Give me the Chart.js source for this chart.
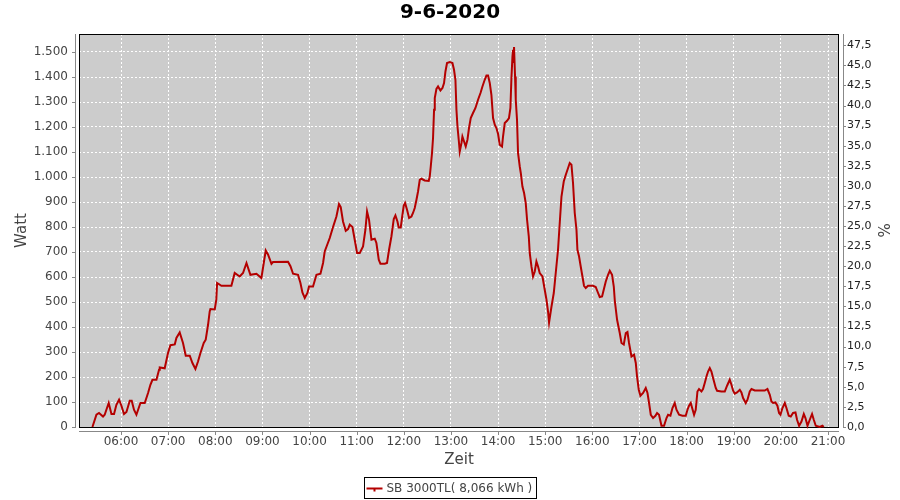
<!DOCTYPE html>
<html lang="de">
<head>
<meta charset="utf-8">
<title>9-6-2020</title>
<script src="https://cdn.jsdelivr.net/npm/chart.js@4.4.1/dist/chart.umd.min.js"></script>
<style>
  html, body { margin: 0; padding: 0; background: #ffffff; }
  #wrap { width: 900px; height: 500px; }
</style>
</head>
<body>
<div id="wrap"><canvas id="chart-tag" width="900" height="500"></canvas></div>
<script>
'use strict';

/* ─── Daten ───────────────────────────────────────────────── */
var titelText   = '9-6-2020';
var serienName  = 'SB 3000TL( 8,066 kWh )';

/* Minuten seit Mitternacht */
var zeitMin = [
  323.6, 328.7, 332, 337.1, 339.2, 344.3, 347.8, 351.1, 354.1, 357.5,
  360.5, 363.8, 366.9, 371.1, 373.6, 376.5, 379.6, 384.7, 390.2, 394.4,
  397.4, 400, 405.1, 408.4, 409.3, 415.6, 419.8, 422.9, 428.4, 430.5,
  434.7, 438.9, 442.4, 447.5, 450.9, 454.7, 458, 461.1, 465.3, 467.8,
  470.8, 472.9, 473.8, 479.3, 481.3, 482.3, 487.8, 500.5, 504.7, 511.1,
  515.3, 519.7, 524.7, 532.4, 538.7, 541.7, 544.2, 547.1, 551.5, 553.5,
  572.6, 575.7, 579, 585.3, 588.4, 590.9, 593.9, 597.3, 599.3, 604.4,
  608.8, 613.9, 617.2, 619.3, 625.7, 629.9, 634.2, 637.5, 639.7, 642.6,
  646.1, 649, 651.2, 654.6, 657.5, 660.5, 663.9, 668.1, 671.1, 673.2,
  675.7, 678.8, 683, 685.1, 688.1, 690.2, 695.7, 698.6, 701.2, 704.2,
  707.2, 709.3, 711.9, 713.5, 716.1, 717.7, 719.9, 721.6, 724.1, 726.7,
  729.7, 731.7, 733.9, 736.1, 738.1, 740.3, 742.4, 746.6, 751.7, 753,
  754.3, 755.9, 757.2, 758.5, 759.4, 761.5, 763.6, 766.6, 769.2, 771.2,
  773, 775, 778.5, 781.9, 783.9, 785.7, 787, 788.3, 789.9, 791.2,
  793.4, 794.6, 796.7, 798.8, 801, 803, 805.2, 808.1, 811.2, 814.5,
  817.6, 820.1, 823, 825.2, 827.2, 829.4, 831.5, 833.6, 835.8, 837.9,
  840, 842.1, 845, 846.3, 848.5, 851.4, 853.9, 855.7, 857, 858.3,
  859.1, 859.9, 860.3, 861.6, 862.5, 864.1, 865.4, 867.6, 868.9, 871,
  873.1, 875.2, 876.9, 879.1, 880.3, 882.5, 884.5, 886.7, 888.8, 890.9,
  893, 896.5, 899.4, 901.6, 903.6, 904.9, 908, 910.9, 913.4, 916.3,
  918.5, 920.7, 923.6, 926.2, 929.1, 931.2, 933.4, 935.4, 937.6, 939.8,
  941, 943.1, 945.2, 947.4, 949.4, 951.6, 954.5, 960.9, 964.3, 967.3,
  969.4, 972.4, 974.5, 977.1, 980, 982.2, 985.1, 987.3, 988.6, 991.5,
  994.9, 997.1, 1000, 1002.6, 1004.7, 1006.7, 1009.8, 1013.1, 1015.3, 1016.9,
  1019.1, 1021.2, 1024.6, 1028, 1030.2, 1032.2, 1034.4, 1037.3, 1040.3, 1042.4,
  1044.9, 1048, 1051.3, 1054.4, 1056.4, 1059.4, 1062, 1064.9, 1067.1, 1070.4,
  1074.7, 1078.9, 1081.1, 1083.1, 1085.3, 1087.4, 1089.5, 1091.6, 1093.8, 1095.8,
  1098.9, 1100.9, 1103.1, 1105.3, 1107.3, 1109.5, 1111.6, 1113.7, 1117.1, 1118.8,
  1124.4, 1128.6, 1131.5, 1134.9, 1137.1, 1139.1, 1141.3, 1144.2, 1147.7, 1149.8,
  1151.9, 1155.3, 1157.5, 1160.4, 1162.6, 1166.8, 1179.5, 1182.9, 1185.9, 1188,
  1190.1, 1193.1, 1195.6, 1197.7, 1199.5, 1202, 1205, 1207.1, 1210, 1212.6,
  1215.5, 1218.6, 1220.6, 1223.2, 1226.2, 1229.2, 1231.3, 1233.9, 1236.8, 1239.7,
  1241.9, 1244.4, 1249.5, 1252.9, 1254.6
];

var wattWerte = [
  0, 49, 56, 42, 49, 96, 52, 52, 89, 109,
  85, 52, 60, 105, 105, 69, 49, 96, 96, 136,
  169, 189, 189, 229, 238, 235, 296, 327, 330, 356,
  378, 336, 285, 285, 256, 232, 262, 296, 336, 349,
  409, 462, 472, 470, 509, 576, 565, 565, 616, 602,
  616, 656, 609, 613, 596, 656, 706, 690, 653, 660,
  661, 643, 613, 609, 576, 538, 516, 536, 562, 562,
  609, 613, 656, 702, 756, 800, 842, 892, 880, 822,
  785, 792, 809, 800, 749, 696, 696, 722, 789, 862,
  829, 749, 753, 736, 669, 653, 653, 656, 709, 762,
  832, 846, 822, 798, 798, 836, 886, 896, 869, 836,
  842, 856, 876, 909, 942, 989, 993, 986, 984, 1002,
  1042, 1096, 1156, 1269, 1316, 1352, 1362, 1346, 1356, 1376,
  1422, 1456, 1460, 1456, 1429, 1389, 1269, 1202, 1149, 1102,
  1136, 1162, 1142, 1122, 1149, 1196, 1236, 1256, 1276, 1309,
  1336, 1362, 1389, 1406, 1406, 1376, 1329, 1236, 1209, 1196,
  1172, 1129, 1122, 1162, 1216, 1225, 1236, 1276, 1396, 1482,
  1509, 1456, 1520, 1402, 1309, 1229, 1096, 1042, 1016, 962,
  936, 896, 829, 762, 696, 642, 602, 622, 662, 642,
  616, 602, 549, 509, 462, 418, 482, 536, 616, 709,
  816, 922, 982, 1009, 1036, 1056, 1049, 976, 856, 789,
  709, 682, 642, 602, 565, 556, 565, 565, 560, 536,
  520, 522, 549, 582, 609, 625, 609, 562, 505, 429,
  376, 336, 330, 376, 380, 336, 282, 289, 256, 202,
  149, 125, 136, 156, 136, 96, 49, 36, 45, 56,
  49, 5, 5, 36, 49, 45, 76, 96, 69, 49,
  45, 45, 69, 85, 96, 72, 49, 69, 142, 152,
  142, 152, 176, 202, 222, 236, 222, 196, 156, 145,
  142, 142, 165, 189, 169, 146, 133, 138, 149, 138,
  116, 96, 109, 142, 152, 146, 146, 152, 129, 102,
  96, 98, 85, 56, 49, 76, 96, 76, 45, 42,
  56, 58, 29, 5, 22, 52, 36, 5, 29, 52,
  29, 5, 0, 5, 0
];

/* Achsenbereiche und Ticks */
var zeitBereich    = [306.5, 1274];
var wattBereich    = [0, 1572];
var prozentBereich = [0, 48.9];
var zeitTicks    = [360, 420, 480, 540, 600, 660, 720, 780, 840, 900, 960, 1020, 1080, 1140, 1200, 1260];
var wattTicks    = [0, 100, 200, 300, 400, 500, 600, 700, 800, 900, 1000, 1100, 1200, 1300, 1400, 1500];
var prozentTicks = [0, 2.5, 5, 7.5, 10, 12.5, 15, 17.5, 20, 22.5, 25, 27.5, 30, 32.5, 35, 37.5, 40, 42.5, 45, 47.5];

/* ─── Hilfsfunktionen ─────────────────────────────────────── */
function fmtZeit(m) {
  var h = Math.floor(m / 60);
  var mm = Math.round(m - h * 60);
  return (h < 10 ? '0' : '') + h + ':' + (mm < 10 ? '0' : '') + mm;
}
function fmtWatt(v) {
  return v.toLocaleString('de-DE');
}
function fmtProzent(v) {
  return v.toFixed(1).replace('.', ',');
}
function setzeTicks(liste) {
  return function(scale) {
    scale.ticks = liste.map(function(v) { return { value: v }; });
  };
}

var punkte = [];
for (var i = 0; i < zeitMin.length; i++) {
  punkte.push({ x: zeitMin[i], y: wattWerte[i] });
}

/* ─── Plot-Hintergrund, Rahmen, versetzte Achsen, Legende ── */
var jfreeStil = {
  id: 'jfreeStil',
  beforeDraw: function(chart) {
    var ctx = chart.ctx, a = chart.chartArea;
    ctx.save();
    ctx.fillStyle = '#ffffff';
    ctx.fillRect(0, 0, chart.width, chart.height);
    ctx.fillStyle = '#cccccc';
    ctx.fillRect(a.left, a.top, a.right - a.left, a.bottom - a.top);
    ctx.restore();
  },
  beforeDatasetsDraw: function(chart) {
    var ctx = chart.ctx, a = chart.chartArea;
    ctx.save();
    ctx.strokeStyle = '#000000';
    ctx.lineWidth = 1;
    ctx.strokeRect(a.left + 0.5, a.top + 0.5, a.right - a.left - 1, a.bottom - a.top);
    ctx.restore();
  },
  afterDraw: function(chart) {
    var ctx = chart.ctx, a = chart.chartArea;
    var sx = chart.scales.x, sy = chart.scales.y, sp = chart.scales.y1;
    var i, p;
    ctx.save();
    ctx.strokeStyle = '#888888';
    ctx.lineWidth = 1;
    ctx.beginPath();
    /* links */
    ctx.moveTo(a.left - 3.5, a.top);
    ctx.lineTo(a.left - 3.5, a.bottom + 1);
    for (i = 0; i < wattTicks.length; i++) {
      p = Math.round(sy.getPixelForValue(wattTicks[i])) + 0.5;
      ctx.moveTo(a.left - 7, p);
      ctx.lineTo(a.left - 3.5, p);
    }
    /* unten */
    ctx.moveTo(a.left, a.bottom + 4.5);
    ctx.lineTo(a.right, a.bottom + 4.5);
    for (i = 0; i < zeitTicks.length; i++) {
      p = Math.round(sx.getPixelForValue(zeitTicks[i])) + 0.5;
      ctx.moveTo(p, a.bottom + 4.5);
      ctx.lineTo(p, a.bottom + 8);
    }
    /* rechts */
    ctx.moveTo(a.right + 4.5, a.top);
    ctx.lineTo(a.right + 4.5, a.bottom + 1);
    for (i = 0; i < prozentTicks.length; i++) {
      p = Math.round(sp.getPixelForValue(prozentTicks[i])) + 0.5;
      ctx.moveTo(a.right + 4.5, p);
      ctx.lineTo(a.right + 7, p);
    }
    ctx.stroke();

    /* Legende mit Rahmen */
    var label = chart.data.datasets[0].label;
    ctx.font = '12px "DejaVu Sans"';
    var tw = ctx.measureText(label).width;
    var bw = Math.round(tw + 26);
    var bx = Math.round(450 - bw / 2) + 0.5;
    var by = 477.5;
    ctx.strokeStyle = '#000000';
    ctx.strokeRect(bx, by, bw, 21);
    ctx.strokeStyle = chart.data.datasets[0].borderColor;
    ctx.lineWidth = 2;
    ctx.beginPath();
    ctx.moveTo(bx + 2, by + 11);
    ctx.lineTo(bx + 18, by + 11);
    ctx.stroke();
    ctx.fillStyle = chart.data.datasets[0].borderColor;
    ctx.fillRect(bx + 9, by + 11, 2, 3);
    ctx.fillStyle = '#444444';
    ctx.textBaseline = 'middle';
    ctx.textAlign = 'left';
    ctx.fillText(label, bx + 22, by + 11);
    ctx.restore();
  }
};

/* ─── Chart ───────────────────────────────────────────────── */
Chart.defaults.font.family = '"DejaVu Sans", sans-serif';
Chart.defaults.font.size = 12;

var chartTag = new Chart(document.getElementById('chart-tag'), {
  type: 'line',
  data: {
    datasets: [{
      label: serienName,
      data: punkte,
      borderColor: '#b40000',
      borderWidth: 2,
      pointRadius: 0,
      tension: 0,
      fill: false,
      clip: false
    }]
  },
  options: {
    responsive: false,
    animation: false,
    layout: { padding: 0 },
    plugins: {
      legend: { display: false },
      tooltip: { enabled: false },
      title: {
        display: true,
        text: titelText,
        color: '#000000',
        font: { size: 20, weight: 'bold' },
        padding: { top: 1, bottom: 9 }
      }
    },
    scales: {
      x: {
        type: 'linear',
        position: 'bottom',
        min: zeitBereich[0],
        max: zeitBereich[1],
        afterBuildTicks: setzeTicks(zeitTicks),
        afterFit: function(s) { s.height = 73; },
        grid: { color: '#ffffff', lineWidth: 1, drawTicks: false },
        border: { display: false, dash: [2, 2] },
        ticks: { padding: 8, color: '#444444', maxRotation: 0, autoSkip: false,
                 callback: function(v) { return fmtZeit(v); } },
        title: { display: true, text: 'Zeit', color: '#444444',
                 font: { size: 15 }, padding: { top: 0, bottom: 31 } }
      },
      y: {
        type: 'linear',
        position: 'left',
        min: wattBereich[0],
        max: wattBereich[1],
        afterBuildTicks: setzeTicks(wattTicks),
        afterFit: function(s) { s.width = 79; },
        grid: { color: '#ffffff', lineWidth: 1, drawTicks: false },
        border: { display: false, dash: [2, 2] },
        ticks: { padding: 11, color: '#444444', autoSkip: false,
                 callback: function(v) { return fmtWatt(v); } },
        title: { display: true, text: 'Watt', color: '#444444',
                 font: { size: 15 }, padding: { top: 13, bottom: 0 } }
      },
      y1: {
        type: 'linear',
        position: 'right',
        min: prozentBereich[0],
        max: prozentBereich[1],
        afterBuildTicks: setzeTicks(prozentTicks),
        afterFit: function(s) { s.width = 61; },
        grid: { drawOnChartArea: false, drawTicks: false },
        border: { display: false },
        ticks: { padding: 8, color: '#222222', autoSkip: false, font: { size: 11 },
                 callback: function(v) { return fmtProzent(v); } },
        title: { display: true, text: '%', color: '#444444',
                 font: { size: 15 }, padding: { top: 9, bottom: 0 } }
      }
    }
  },
  plugins: [jfreeStil]
});
</script>
</body>
</html>
